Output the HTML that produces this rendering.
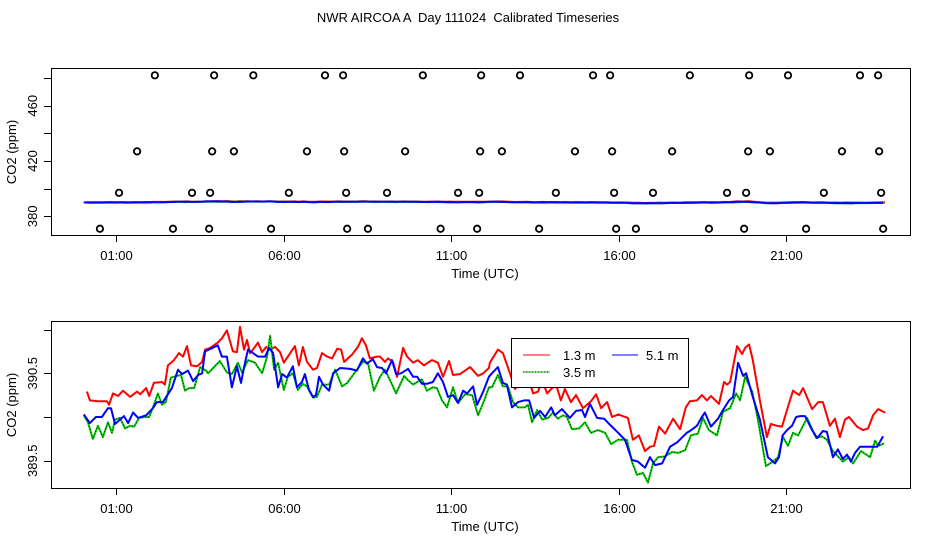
<!DOCTYPE html>
<html><head><meta charset="utf-8"><style>
body{margin:0;background:#fff;}
svg{display:block;font-family:"Liberation Sans",sans-serif;}
</style></head><body>
<svg id="chart" width="936" height="540" viewBox="0 0 936 540" xmlns="http://www.w3.org/2000/svg">
<rect width="936" height="540" fill="#fff"/>
<text x="468" y="22" font-size="13" text-anchor="middle" xml:space="preserve" style="white-space:pre">NWR AIRCOA A  Day 111024  Calibrated Timeseries</text>
<g id="top"></g>
<g id="bot"></g>
<g>
<rect x="511.5" y="338.5" width="177" height="49" fill="#fff" stroke="#000" stroke-width="1"/>
<line x1="523" y1="355" x2="550" y2="355" stroke="#f00" stroke-width="1"/>
<text x="563" y="360" font-size="13">1.3 m</text>
<line x1="612" y1="355" x2="638" y2="355" stroke="#00f" stroke-width="1"/>
<text x="646" y="360" font-size="13">5.1 m</text>
<line x1="523" y1="372" x2="550" y2="372" stroke="#0c0" stroke-width="1"/>
<line x1="523" y1="372" x2="550" y2="372" stroke="#000" stroke-width="1" stroke-dasharray="1,2"/>
<text x="563" y="377" font-size="13">3.5 m</text>
</g>
</svg>
<script>
const xTickLabels=["01:00","06:00","11:00","16:00","21:00"];
const xTickHours=[1,6,11,16,21];
const topYTicks=[380,400,420,440,460,480];
const topYLabels=[380,420,460];
const botYTicks=[389.5,390,390.5,391];
const botYLabels=[389.5,390.5];
const redT=[0.13,0.22,0.46,0.73,0.79,0.91,1.06,1.21,1.42,1.63,1.72,1.90,1.99,2.13,2.37,2.46,2.55,2.73,2.88,3.00,3.12,3.24,3.42,3.57,3.66,3.81,4.04,4.16,4.31,4.49,4.61,4.70,4.82,4.91,5.00,5.09,5.24,5.36,5.48,5.60,5.75,5.90,6.01,6.13,6.34,6.46,6.58,6.70,6.88,7.00,7.15,7.30,7.45,7.60,7.72,7.81,8.04,8.22,8.34,8.46,8.58,8.79,8.88,9.03,9.12,9.27,9.39,9.57,9.69,9.87,10.01,10.19,10.43,10.61,10.76,10.94,11.06,11.27,11.57,11.81,11.96,12.13,12.16,12.40,12.55,12.76,12.91,13.12,13.27,13.45,13.60,13.72,13.87,14.04,14.16,14.28,14.40,14.58,14.73,14.94,15.18,15.33,15.48,15.66,15.81,15.99,16.28,16.43,16.61,16.79,16.94,17.06,17.21,17.39,17.63,17.84,18.01,18.13,18.34,18.49,18.64,18.76,19.00,19.15,19.24,19.33,19.54,19.69,19.78,19.90,20.01,20.22,20.43,20.55,20.73,20.88,21.03,21.21,21.39,21.51,21.78,21.96,22.10,22.31,22.46,22.61,22.76,22.88,23.12,23.30,23.45,23.60,23.75,23.96];
const redV=[390.29,390.19,390.18,390.18,390.14,390.27,390.24,390.30,390.23,390.29,390.26,390.33,390.24,390.39,390.40,390.37,390.59,390.65,390.73,390.69,390.81,390.59,390.58,390.63,390.77,390.79,390.85,390.90,390.99,390.75,390.74,391.03,390.77,390.88,390.73,390.77,390.85,390.74,390.80,390.77,390.80,390.74,390.62,390.69,390.81,390.59,390.80,390.63,390.54,390.56,390.73,390.69,390.67,390.78,390.77,390.63,390.71,390.80,390.90,390.82,390.67,390.69,390.69,390.63,390.67,390.63,390.46,390.79,390.69,390.62,390.65,390.59,390.65,390.62,390.46,390.64,390.48,390.49,390.57,390.47,390.50,390.56,390.62,390.77,390.73,390.50,390.32,390.42,390.50,390.27,390.29,390.42,390.27,390.34,390.34,390.19,390.32,390.17,390.25,390.10,390.18,390.26,390.10,390.17,390.00,390.03,389.99,389.74,389.79,389.61,389.66,389.67,389.89,389.81,389.98,389.86,390.11,390.18,390.19,390.25,390.19,390.24,390.15,390.40,390.37,390.40,390.81,390.72,390.79,390.83,390.65,390.19,389.77,389.92,389.90,389.89,390.08,390.30,390.25,390.33,390.09,390.17,390.17,389.90,389.98,389.77,389.97,390.00,389.89,389.85,389.87,390.02,390.09,390.05];
const blueT=[0.04,0.22,0.40,0.58,0.76,0.85,0.97,1.12,1.24,1.36,1.51,1.66,1.90,2.10,2.22,2.40,2.67,2.85,2.97,3.15,3.30,3.45,3.57,3.66,4.04,4.16,4.31,4.46,4.61,4.73,4.85,4.94,5.09,5.24,5.45,5.57,5.69,5.84,5.96,6.10,6.28,6.40,6.55,6.64,6.76,6.88,6.97,7.06,7.18,7.36,7.48,7.69,7.99,8.19,8.37,8.49,8.67,8.79,8.94,9.06,9.24,9.36,9.51,9.72,9.87,9.99,10.13,10.28,10.46,10.61,10.76,10.91,11.06,11.21,11.36,11.48,11.66,11.78,11.96,12.13,12.22,12.40,12.55,12.67,12.82,13.00,13.18,13.33,13.48,13.66,13.81,13.99,14.10,14.31,14.55,14.73,14.91,15.00,15.15,15.36,15.57,15.75,15.99,16.19,16.40,16.58,16.79,16.94,17.09,17.30,17.54,17.75,18.04,18.13,18.34,18.49,18.58,18.76,18.97,19.12,19.30,19.42,19.57,19.72,19.81,20.01,20.22,20.46,20.67,20.79,20.90,21.03,21.18,21.30,21.42,21.57,21.78,21.93,22.10,22.22,22.40,22.55,22.70,22.82,22.94,23.06,23.21,23.51,23.72,23.90];
const blueV=[390.03,389.93,390.00,390.00,390.10,390.10,389.92,389.97,390.01,389.93,390.05,389.99,390.02,390.10,390.17,390.17,390.33,390.54,390.49,390.53,390.41,390.48,390.50,390.75,390.82,390.69,390.69,390.34,390.58,390.39,390.62,390.77,390.73,390.69,390.69,390.79,390.73,390.34,390.49,390.45,390.58,390.34,390.40,390.49,390.31,390.23,390.25,390.46,390.37,390.30,390.50,390.56,390.55,390.53,390.67,390.61,390.66,390.57,390.56,390.50,390.65,390.49,390.50,390.55,390.46,390.46,390.38,390.38,390.40,390.50,390.40,390.23,390.25,390.16,390.30,390.27,390.35,390.14,390.29,390.46,390.50,390.57,390.39,390.37,390.11,390.17,390.19,390.19,389.99,390.07,390.00,390.11,390.02,390.09,389.99,390.07,390.08,390.00,390.15,389.99,389.98,389.91,389.82,389.74,389.51,389.49,389.42,389.54,389.45,389.47,389.66,389.71,389.82,389.84,389.90,390.00,390.05,389.89,389.98,390.08,390.19,390.23,390.62,390.47,390.50,390.23,389.97,389.54,389.47,389.54,389.79,389.85,389.90,390.00,390.01,390.01,389.85,389.76,389.84,389.83,389.54,389.63,389.52,389.57,389.49,389.59,389.66,389.66,389.66,389.78];
const greenT=[0.04,0.16,0.31,0.46,0.61,0.76,0.88,0.97,1.12,1.27,1.42,1.54,1.69,1.87,1.99,2.10,2.25,2.37,2.49,2.64,2.82,2.94,3.06,3.18,3.33,3.51,3.69,3.75,3.90,4.10,4.31,4.46,4.64,4.76,4.94,5.15,5.36,5.51,5.60,5.72,5.84,6.01,6.13,6.28,6.43,6.58,6.70,6.88,7.00,7.15,7.36,7.54,7.75,7.90,8.19,8.37,8.52,8.70,8.88,9.03,9.18,9.36,9.60,9.72,9.87,9.99,10.13,10.28,10.46,10.58,10.73,10.88,11.06,11.21,11.42,11.63,11.81,11.99,12.13,12.22,12.40,12.55,12.70,12.85,13.00,13.21,13.30,13.42,13.57,13.72,13.90,14.04,14.19,14.34,14.46,14.61,14.82,15.00,15.18,15.39,15.60,15.78,15.99,16.25,16.40,16.55,16.73,16.88,17.03,17.18,17.39,17.60,17.78,17.99,18.16,18.37,18.52,18.70,18.94,19.12,19.33,19.51,19.63,19.78,19.99,20.16,20.40,20.61,20.76,20.91,21.06,21.21,21.36,21.63,21.90,22.07,22.22,22.40,22.70,22.88,23.00,23.24,23.51,23.66,23.75,23.93];
const greenV=[390.02,389.94,389.75,389.90,389.77,389.94,389.82,389.97,389.99,389.87,389.90,389.89,389.99,390.00,390.00,390.11,390.27,390.14,390.17,390.45,390.47,390.48,390.30,390.33,390.33,390.57,390.53,390.50,390.56,390.64,390.51,390.49,390.62,390.51,390.65,390.62,390.50,390.69,390.93,390.54,390.62,390.31,390.46,390.50,390.31,390.38,390.35,390.22,390.23,390.37,390.37,390.54,390.35,390.39,390.54,390.63,390.62,390.30,390.46,390.54,390.42,390.27,390.47,390.42,390.37,390.40,390.43,390.30,390.34,390.33,390.19,390.11,390.34,390.16,390.26,390.25,390.02,390.19,390.34,390.34,390.48,390.35,390.35,390.17,390.11,390.11,390.14,389.94,390.08,389.97,389.99,390.05,389.98,390.02,390.00,389.86,389.87,389.94,389.82,389.85,389.82,389.69,389.74,389.74,389.49,389.34,389.36,389.25,389.47,389.54,389.55,389.60,389.59,389.62,389.79,389.81,389.99,389.85,389.79,390.06,390.10,390.27,390.19,390.46,390.29,389.97,389.44,389.49,389.54,389.77,389.67,389.82,389.79,389.99,389.76,389.78,389.74,389.61,389.49,389.54,389.47,389.61,389.54,389.73,389.67,389.70];
const circleT=[2.16,3.93,5.10,7.24,7.78,10.16,11.90,13.06,15.24,15.75,18.13,19.90,21.06,23.21,23.75,1.63,3.87,4.52,6.70,7.81,9.63,11.87,12.52,14.70,15.81,17.60,19.87,20.52,22.67,23.78,1.09,3.27,3.81,6.16,7.87,9.09,11.21,11.84,14.13,15.87,17.03,19.24,19.81,22.13,23.84,0.52,2.70,3.78,5.63,7.90,8.52,10.69,11.78,13.63,15.93,16.52,18.70,19.75,21.60,23.90];
const circleV=[482,482,482,482,482,482,482,482,482,482,482,482,482,482,482,427,427,427,427,427,427,427,427,427,427,427,427,427,427,427,397,397,397,397,397,397,397,397,397,397,397,397,397,397,397,371,371,371,371,371,371,371,371,371,371,371,371,371,371,371];

const NS="http://www.w3.org/2000/svg";
const X0=51,X1=910;
const xS=t=>82.5+t*33.5;
const topY=v=>216.3-(v-380)*1.382;
const botY=v=>417-(v-390)*87.5;
function mk(tag,attrs,parent){const e=document.createElementNS(NS,tag);for(const k in attrs)e.setAttribute(k,attrs[k]);parent.appendChild(e);return e;}

function panel(g,top,bottom,yf,ticks,labels,fmt,ylabelY,prefix){
  const box=mk('rect',{x:X0+.5,y:top+.5,width:X1-X0,height:bottom-top,fill:'none',stroke:'#000','stroke-width':1},g);
  
  
  xTickHours.forEach((h,i)=>{
    const x=Math.round(xS(h))+.5;
    const tk=mk('line',{x1:x,x2:x,y1:bottom,y2:bottom+7,stroke:'#000'},g);
    
    
    const tl=mk('text',{x:x,y:bottom+25,'font-size':13,'text-anchor':'middle'},g);
    tl.textContent=xTickLabels[i];
    
    
  });
  ticks.forEach(v=>{
    const y=Math.round(yf(v))+.5;
    const tk=mk('line',{x1:X0-7,x2:X0,y1:y,y2:y,stroke:'#000'},g);
    
    
  });
  labels.forEach(v=>{
    const y=yf(v);
    const tl=mk('text',{x:0,y:0,'font-size':13,'text-anchor':'middle',transform:`translate(37,${y}) rotate(-90)`},g);
    tl.textContent=fmt(v);
    
    
  });
  const xt=mk('text',{x:485,y:bottom+43,'font-size':13,'text-anchor':'middle'},g);
  xt.textContent='Time (UTC)';
  
  
  const yt=mk('text',{x:0,y:0,'font-size':13,'text-anchor':'middle',transform:`translate(16,${ylabelY}) rotate(-90)`},g);
  yt.textContent='CO2 (ppm)';
  
  
}
function line(g,T,V,yf,color,w,name,dash){
  const d=T.map((t,i)=>(i?'L':'M')+xS(t).toFixed(1)+','+yf(V[i]).toFixed(1)).join('');
  const p=mk('path',{d:d,fill:'none',stroke:color,'stroke-width':w,'stroke-linejoin':'round'},g);
  if(dash)p.setAttribute('stroke-dasharray',dash);
  
  
}
const gt=document.getElementById('top'),gb=document.getElementById('bot');
panel(gt,68,235,topY,topYTicks,topYLabels,v=>String(v),152,'top');
panel(gb,321,488,botY,botYTicks,botYLabels,v=>v.toFixed(1),405,'bottom');
line(gt,redT,redV,topY,'#f00',2,'top-series-1-3m');
line(gt,greenT,greenV,topY,'#0c0',2,'top-series-3-5m');
line(gt,blueT,blueV,topY,'#00f',2,'top-series-5-1m');
circleT.forEach((t,i)=>{
  const c=mk('circle',{cx:xS(t),cy:topY(circleV[i]),r:3.2,fill:'none',stroke:'#000','stroke-width':1.8},gt);
  
  
});
line(gb,redT,redV,botY,'#f00',2,'series-1-3m');
line(gb,greenT,greenV,botY,'#0c0',2,'series-3-5m');
line(gb,greenT,greenV,botY,'#000',0.8,'series-3-5m-dots','1,2');
line(gb,blueT,blueV,botY,'#00f',2,'series-5-1m');
</script>
</body></html>
